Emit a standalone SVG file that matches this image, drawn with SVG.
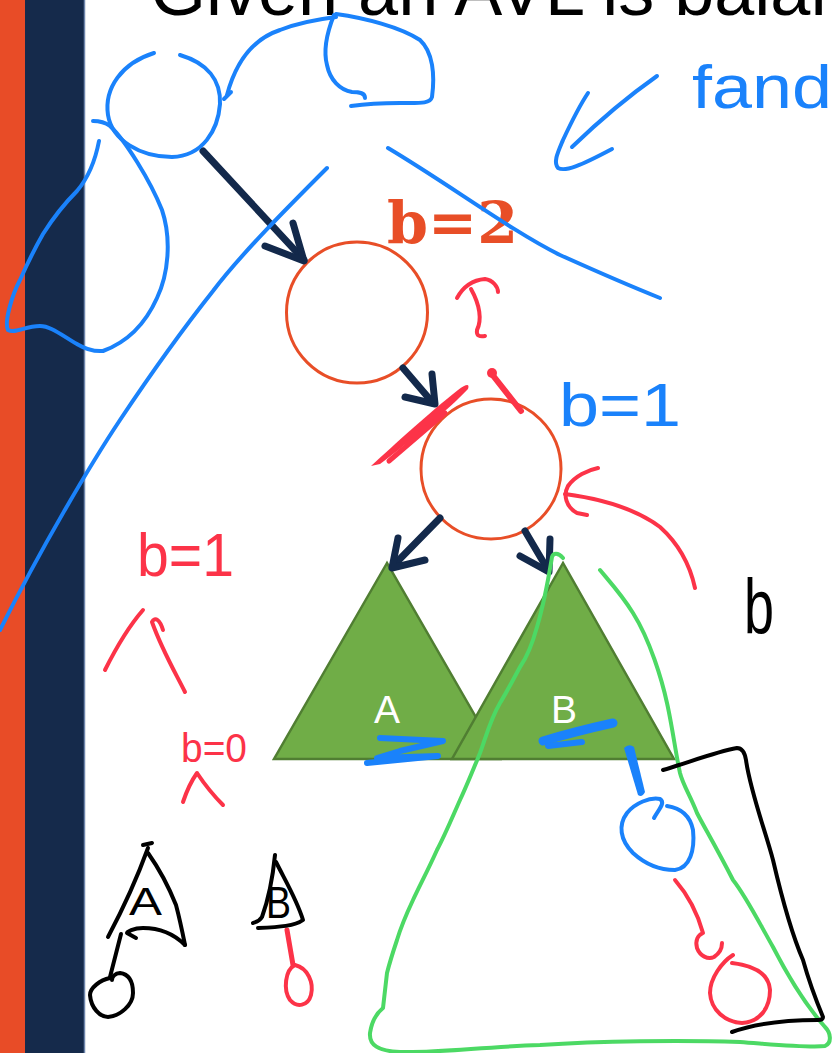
<svg xmlns="http://www.w3.org/2000/svg" width="833" height="1053" viewBox="0 0 833 1053">
<style>
.ink{fill:none;stroke-linecap:round;stroke-linejoin:round;stroke-width:4}
.blue{stroke:#1a82fb}
.red{stroke:#fc3348}
.green{stroke:#4cd964}
.black{stroke:#000}
.navy{fill:none;stroke:#13294b;stroke-width:7;stroke-linecap:round;stroke-linejoin:round}
.node{fill:#fff;stroke:#e84e27;stroke-width:3}
.tri{fill:#70ad47;stroke:#507e32;stroke-width:2.5;stroke-linejoin:miter}
.lbl{font-family:"Liberation Sans",Arial,sans-serif;fill:#fff;font-size:39px;text-anchor:middle}
.hand{font-family:"Liberation Sans",Arial,sans-serif}
</style>
<rect width="833" height="1053" fill="#fff"/>
<g id="sidebar">
<rect x="0" y="0" width="25" height="1053" fill="#e84c27"/>
<rect x="25" y="0" width="59" height="1053" fill="#152a4b"/>
<line x1="84.5" y1="0" x2="84.5" y2="1053" stroke="#6f86ad" stroke-width="1.5"/>
</g>
<g id="title">
<text x="150" y="15" font-family="Liberation Sans,Arial,sans-serif" font-size="72" fill="#000">Given an AVL is balan</text>
</g>
<g id="node-root">
<circle cx="357" cy="312.5" r="70.5" class="node"/>
<text x="387" y="243" font-family="DejaVu Serif,Liberation Serif,serif" font-weight="bold" font-size="58" fill="#e84e27" textLength="131" lengthAdjust="spacingAndGlyphs">b=2</text>
</g>
<g id="node-child">
<circle cx="491" cy="469" r="70" class="node"/>
</g>
<g id="subtree-A">
<polygon points="387,563 274,759 500,759" class="tri"/>
<text x="387" y="723" class="lbl">A</text>
</g>
<g id="subtree-B">
<polygon points="563,563 452,759 674,759" class="tri"/>
<text x="564" y="723" class="lbl">B</text>
</g>
<g id="connectors">
<path class="navy" d="M203,151 L304,260"/>
<path class="navy" d="M293,223 L304,261 L265,246"/>
<path class="navy" d="M403,368 L433,403"/>
<path class="navy" d="M432,374 L435,404 L405,397"/>
<path class="navy" d="M440,518 L393,566"/>
<path class="navy" d="M398,538 L392,568 L425,560"/>
<path class="navy" d="M525,531 L548,570"/>
<path class="navy" d="M550,539 L549,572 L520,556"/>
</g>
<g id="ink-blue">
<path class="ink blue" d="M154,53 C122,63 104,88 108,115 C112,140 140,157 172,157 C203,156 218,130 220,104 C221,80 207,63 180,55"/>
<path class="ink blue" d="M227,95 C235,65 250,40 280,30 C300,22 320,19 336,17"/>
<path class="ink blue" d="M336,14 C365,18 400,27 420,40 C433,52 435,75 432,97 C430,104 420,103 400,103 C380,103 365,104 351,106"/>
<path class="ink blue" d="M334,15 C328,30 323,50 327,65 C330,80 340,90 352,92 C360,92 365,93 365,98"/>
<path class="ink blue" d="M224,99 L231,92"/>
<path class="ink blue" d="M93,121 C100,121 106,123 110,126 C125,140 150,180 162,210 C172,240 168,275 157,298 C148,318 133,340 103,351 C90,352 82,347 77,344 C60,334 50,326 40,326 C25,326 15,334 8,330 C4,322 12,295 20,280 C28,262 35,248 43,234 C55,215 68,200 77,191 C88,178 95,162 99,141"/>
<path class="ink blue" d="M327,168 C290,205 240,255 213,291 C190,320 150,375 120,420 C90,465 40,550 0,630"/>
<path class="ink blue" d="M657,76 C630,95 600,120 572,147"/>
<path class="ink blue" d="M588,93 C580,105 570,125 563,140 C558,152 553,162 558,168 C565,172 580,166 612,149"/>
<path class="ink blue" d="M388,148 C450,185 510,230 560,255 C600,273 630,286 660,298"/>
<text class="hand" x="692" y="108" font-size="62" fill="#1a82fb" textLength="140" lengthAdjust="spacingAndGlyphs">fand</text>
<text class="hand" x="559" y="426" font-size="62" fill="#1a82fb" textLength="122" lengthAdjust="spacingAndGlyphs">b=1</text>
<path class="ink blue" style="stroke-width:6" d="M380,738 L443,741 L400,751 L377,758 L438,756 L367,763"/>
<path class="ink blue" style="stroke-width:9" d="M543,741 C570,733 595,727 613,723"/>
<path class="ink blue" style="stroke-width:6" d="M548,746 L582,742"/>
<path fill="#1a82fb" d="M624,748 Q629,743 634,747 L645,792 Q642,798 638,795 Z"/>
<path class="ink blue" d="M654,818 C658,810 666,803 660,799 C650,797 635,803 627,813 C618,825 620,840 633,853 C645,864 660,870 675,870 C690,868 695,850 693,830 C690,815 680,808 667,806"/>
</g>
<g id="ink-red">
<path class="ink red" d="M457,298 C463,287 473,280 485,279 C493,280 498,287 498,292"/>
<path class="ink red" d="M471,289 C480,305 482,320 477,330 C476,336 480,337 485,336"/>
<path fill="#fc3348" d="M371,466 C395,444 430,412 458,390 C466,384 470,383 468,389 C448,410 412,440 380,464 Z"/>
<path class="ink red" style="stroke-width:5" d="M389,461 L445,413"/>
<path class="ink red" style="stroke-width:6" d="M491,373 L521,411"/>
<circle cx="492" cy="373" r="5" fill="#fc3348"/>
<path class="ink red" d="M695,588 C690,565 680,545 660,527 C640,512 610,500 565,494"/>
<path class="ink red" d="M598,468 C588,470 575,476 568,486 C563,495 566,507 577,513 L587,515"/>
<text class="hand" x="137" y="576" font-size="62" fill="#fc3348" textLength="97" lengthAdjust="spacingAndGlyphs">b=1</text>
<path class="ink red" d="M105,670 C115,650 130,625 143,610"/>
<path class="ink red" d="M163,630 C160,620 155,616 152,622 C162,650 175,672 185,692"/>
<text class="hand" x="181" y="762" font-size="40" fill="#fc3348" textLength="66" lengthAdjust="spacingAndGlyphs">b=0</text>
<path class="ink red" d="M183,802 C187,790 192,780 197,773 C205,785 215,797 223,805"/>
<path class="ink red" style="stroke-width:5" d="M287,930 L293,965"/>
<path class="ink red" d="M295,965 C285,970 283,990 290,1000 C297,1008 308,1006 311,995 C314,983 308,968 295,965"/>
<path class="ink red" d="M675,880 C688,895 698,915 703,933 C698,935 695,940 697,948 C700,956 708,960 714,957 C720,953 722,948 722,943"/>
<path class="ink red" d="M733,955 C722,962 710,978 710,993 C711,1010 725,1022 742,1023 C760,1022 770,1008 770,990 C769,975 757,966 732,963"/>
</g>
<g id="ink-green">
<path class="ink green" d="M563,558 C558,552 553,553 552,557 C549,575 545,600 537,627 C532,645 525,660 520,667 C512,682 505,695 500,703 C490,720 485,740 480,753 C473,770 467,785 460,800 C452,818 445,835 437,850 C428,870 420,885 413,900 C405,917 400,930 397,940 C392,955 389,965 387,973 C385,990 384,1000 383,1008 C378,1012 372,1020 370,1033 C369,1045 378,1051 400,1052 C440,1053 480,1047 540,1045 C600,1041 680,1040 740,1042 C780,1045 810,1048 825,1046 C832,1043 831,1033 825,1027 C810,1010 790,980 773,947 C755,915 745,895 733,880 C715,845 703,825 697,813 C690,795 683,785 680,773 C676,755 672,725 667,703 C662,680 650,640 633,613 C622,595 610,582 600,570"/>
</g>
<g id="ink-black">
<path class="ink black" d="M663,770 C690,762 715,752 737,748 Q744,748 746,760 C750,790 765,830 773,860 C780,890 790,930 803,960 C810,985 818,1005 823,1017 Q823,1020 818,1020 C790,1020 760,1022 732,1032"/>
<text class="hand" x="744" y="634" font-size="78" fill="#000" textLength="30" lengthAdjust="spacingAndGlyphs">b</text>
<path class="ink black" d="M143,845 L152,843"/>
<path class="ink black" d="M148,848 C140,870 125,905 108,937"/>
<path class="ink black" d="M148,853 C160,870 170,890 176,905 C180,920 183,935 185,945"/>
<path class="ink black" d="M185,945 C175,935 160,928 143,928 C133,928 127,932 127,933 L136,938"/>
<path class="ink black" d="M121,934 C117,950 113,965 110,977"/>
<path class="ink black" d="M110,978 C100,980 90,988 90,995 C91,1008 100,1017 108,1017 C120,1016 133,1005 133,993 C133,980 128,974 120,973 C115,973 112,977 112,980"/>
<text class="hand" x="129" y="915" font-size="38" fill="#000" textLength="33" lengthAdjust="spacingAndGlyphs">A</text>
<path class="ink black" d="M275,855 C273,875 270,895 262,917 C259,922 255,922 253,923"/>
<path class="ink black" d="M276,862 C285,880 297,900 303,920 C295,926 280,927 258,928"/>
<text class="hand" x="266" y="918" font-size="44" fill="#000" textLength="25" lengthAdjust="spacingAndGlyphs">B</text>
</g>
</svg>
